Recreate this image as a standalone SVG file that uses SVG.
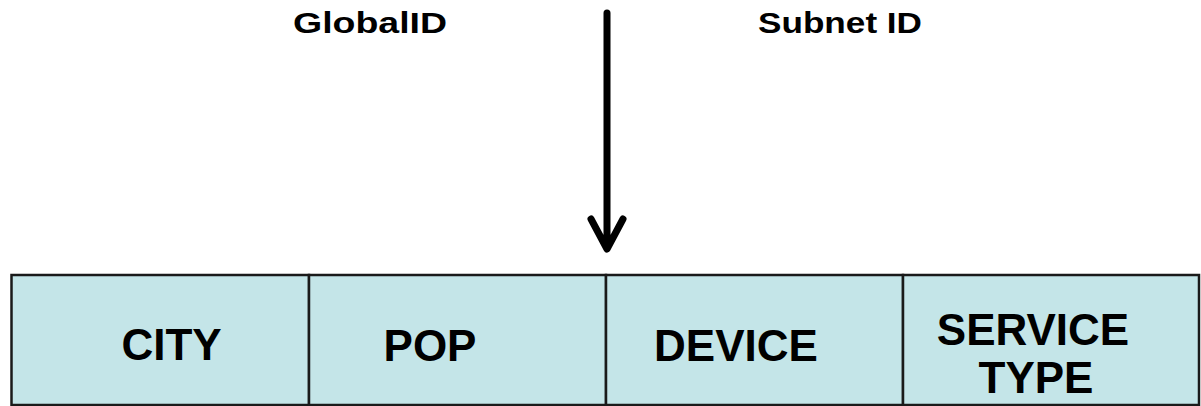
<svg xmlns="http://www.w3.org/2000/svg" width="1201" height="406" viewBox="0 0 1201 406">
<style>
.hdr{font-family:"Liberation Sans",Arial,sans-serif;font-weight:bold;font-size:29px;fill:#000}
.cell{fill:#C4E5E8;stroke:#1a1a1a;stroke-width:2.5}
.lbl{font-family:"Liberation Sans",Arial,sans-serif;font-weight:bold;font-size:44px;fill:#000;text-anchor:middle}
.conn{fill:none;stroke:#000;stroke-width:7;stroke-linecap:round;stroke-linejoin:round}
</style>
<rect width="1201" height="406" fill="#fff"/>
<g id="header-global"><text class="hdr" x="293" y="33" textLength="154" lengthAdjust="spacingAndGlyphs">GlobalID</text></g>
<g id="header-subnet"><text class="hdr" x="758" y="33" textLength="164" lengthAdjust="spacingAndGlyphs">Subnet ID</text></g>
<g id="city"><rect class="cell" x="11.5" y="275" width="297.5" height="130"/><text class="lbl" x="171.5" y="360">CITY</text></g>
<g id="pop"><rect class="cell" x="309" y="275" width="297" height="130"/><text class="lbl" x="430" y="361">POP</text></g>
<g id="device"><rect class="cell" x="606" y="275" width="297" height="130"/><text class="lbl" x="736" y="361">DEVICE</text></g>
<g id="service"><rect class="cell" x="903" y="275" width="296" height="130"/><text class="lbl" x="1033" y="345">SERVICE</text><text class="lbl" x="1036" y="393">TYPE</text></g>
<g id="connectors">
<path class="conn" d="M607 13 V248 M591 219 L607 249 L623 219"/>
</g>
</svg>
